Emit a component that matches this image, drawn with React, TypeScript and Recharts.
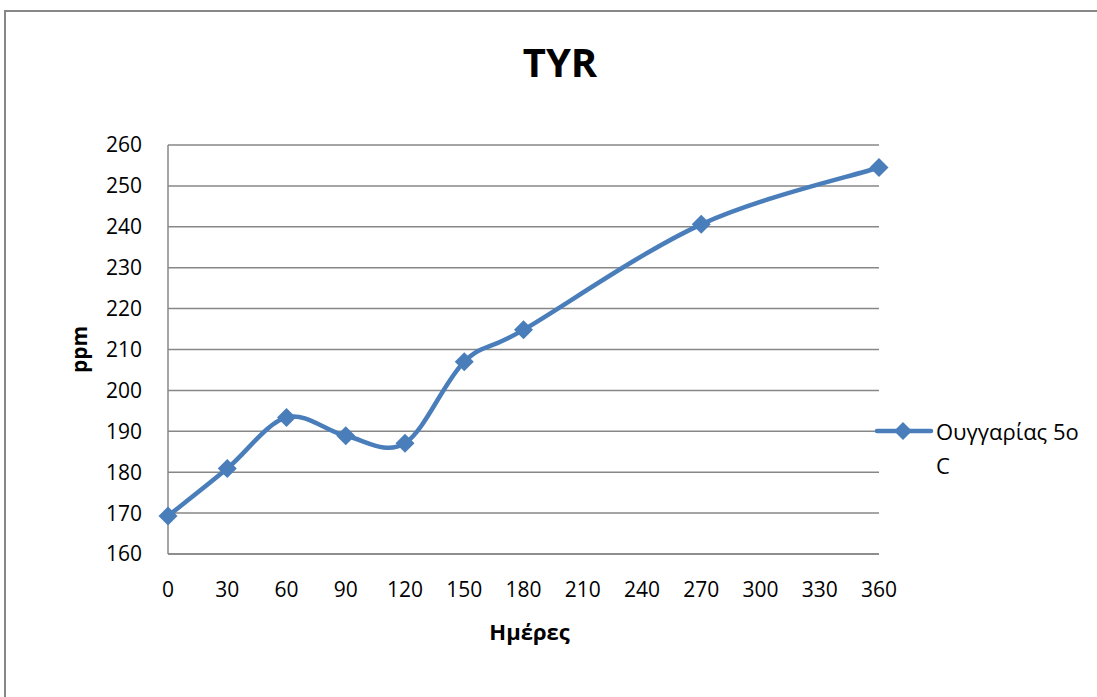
import React from 'react';
import { LineChart, Line, XAxis, YAxis, CartesianGrid } from 'recharts';

// days and measured TYR values (ppm)
const days = [0, 30, 60, 90, 120, 150, 180, 270, 360];
const tyr = [169.3, 180.9, 193.4, 188.9, 187.1, 207.0, 214.8, 240.6, 254.5];
const xTicks = [0, 30, 60, 90, 120, 150, 180, 210, 240, 270, 300, 330, 360];
const yTicks = [160, 170, 180, 190, 200, 210, 220, 230, 240, 250, 260];
const seriesName = 'Ουγγαρίας 5ο C';

const BLUE = '#4a7ebb';
const GRID = '#878787';
const FONT = '"Open Sans", "Noto Sans", sans-serif';

const data = days.map((d, i) => ({ day: d, value: tyr[i] }));

// excel-like smoothed line (catmull-rom as cubic bezier)
const smoothCurve = (context: any) => {
  let pts: [number, number][] = [];
  return {
    areaStart() {},
    areaEnd() {},
    lineStart() {
      pts = [];
    },
    lineEnd() {
      if (!pts.length) return;
      context.moveTo(pts[0][0], pts[0][1]);
      for (let i = 0; i < pts.length - 1; i++) {
        const p0 = pts[i - 1] || pts[i];
        const p1 = pts[i];
        const p2 = pts[i + 1];
        const p3 = pts[i + 2] || p2;
        context.bezierCurveTo(
          p1[0] + (p2[0] - p0[0]) / 6,
          p1[1] + (p2[1] - p0[1]) / 6,
          p2[0] - (p3[0] - p1[0]) / 6,
          p2[1] - (p3[1] - p1[1]) / 6,
          p2[0],
          p2[1]
        );
      }
    },
    point(x: number, y: number) {
      pts.push([+x, +y]);
    },
  };
};

const Diamond = (props: any) => {
  const { cx, cy } = props;
  if (cx == null || cy == null) return null;
  const r = 9.5;
  return (
    <polygon
      key={`d-${cx}-${cy}`}
      points={`${cx},${cy - r} ${cx + r},${cy} ${cx},${cy + r} ${cx - r},${cy}`}
      fill={BLUE}
    />
  );
};

export default function App() {
  return (
    <div style={{ position: 'absolute', left: 0, top: 0, width: 1097, height: 697, background: '#fff', overflow: 'hidden' }}>
      <div
        style={{
          position: 'absolute',
          left: 4,
          top: 10,
          width: 1200,
          height: 800,
          borderLeft: `2px solid ${GRID}`,
          borderTop: `2px solid ${GRID}`,
        }}
      />
      <div
        style={{
          position: 'absolute',
          left: 460,
          width: 200,
          top: 36,
          textAlign: 'center',
          fontFamily: FONT,
          fontWeight: 700,
          fontSize: 40,
          lineHeight: '52px',
        }}
      >
        TYR
      </div>
      <LineChart
        width={1097}
        height={697}
        data={data}
        margin={{ top: 145, right: 218, bottom: 103, left: 78 }}
        style={{ position: 'absolute', left: 0, top: 0 }}
      >
        <CartesianGrid vertical={false} stroke={GRID} strokeWidth={1.5} />
        <XAxis
          dataKey="day"
          type="number"
          domain={[0, 360]}
          ticks={xTicks}
          interval={0}
          height={40}
          tickLine={false}
          tickSize={0}
          tickMargin={28}
          axisLine={{ stroke: GRID, strokeWidth: 1.5 }}
          tick={{ fill: '#000', fontSize: 21, fontFamily: FONT }}
          label={{
            value: 'Ημέρες',
            position: 'bottom',
            offset: 30,
            dx: 6,
            style: { fill: '#000', fontSize: 22, fontWeight: 700, fontFamily: FONT },
          }}
        />
        <YAxis
          type="number"
          domain={[160, 260]}
          ticks={yTicks}
          interval={0}
          width={90}
          tickLine={false}
          tickSize={0}
          tickMargin={26}
          axisLine={{ stroke: GRID, strokeWidth: 1.5 }}
          tick={{ fill: '#000', fontSize: 21, fontFamily: FONT }}
          label={{
            value: 'ppm',
            angle: -90,
            position: 'insideLeft',
            offset: 2,
            style: { textAnchor: 'middle', fill: '#000', fontSize: 21, fontWeight: 700, fontFamily: FONT },
          }}
        />
        <Line
          dataKey="value"
          name={seriesName}
          type={smoothCurve as any}
          stroke={BLUE}
          strokeWidth={4.5}
          dot={<Diamond />}
          activeDot={false}
          isAnimationActive={false}
        />
      </LineChart>
      {/* legend */}
      <div
        style={{
          position: 'absolute',
          left: 874,
          top: 414,
          display: 'flex',
          alignItems: 'flex-start',
          fontFamily: FONT,
          fontSize: 22,
          color: '#000',
        }}
      >
        <svg width={60} height={34} style={{ flex: 'none' }}>
          <line x1={3} y1={17} x2={57} y2={17} stroke={BLUE} strokeWidth={4.5} strokeLinecap="round" />
          <polygon points="29,8 38,17 29,26 20,17" fill={BLUE} />
        </svg>
        <div style={{ width: 150, lineHeight: '34px', marginLeft: 2 }}>{seriesName}</div>
      </div>
    </div>
  );
}
